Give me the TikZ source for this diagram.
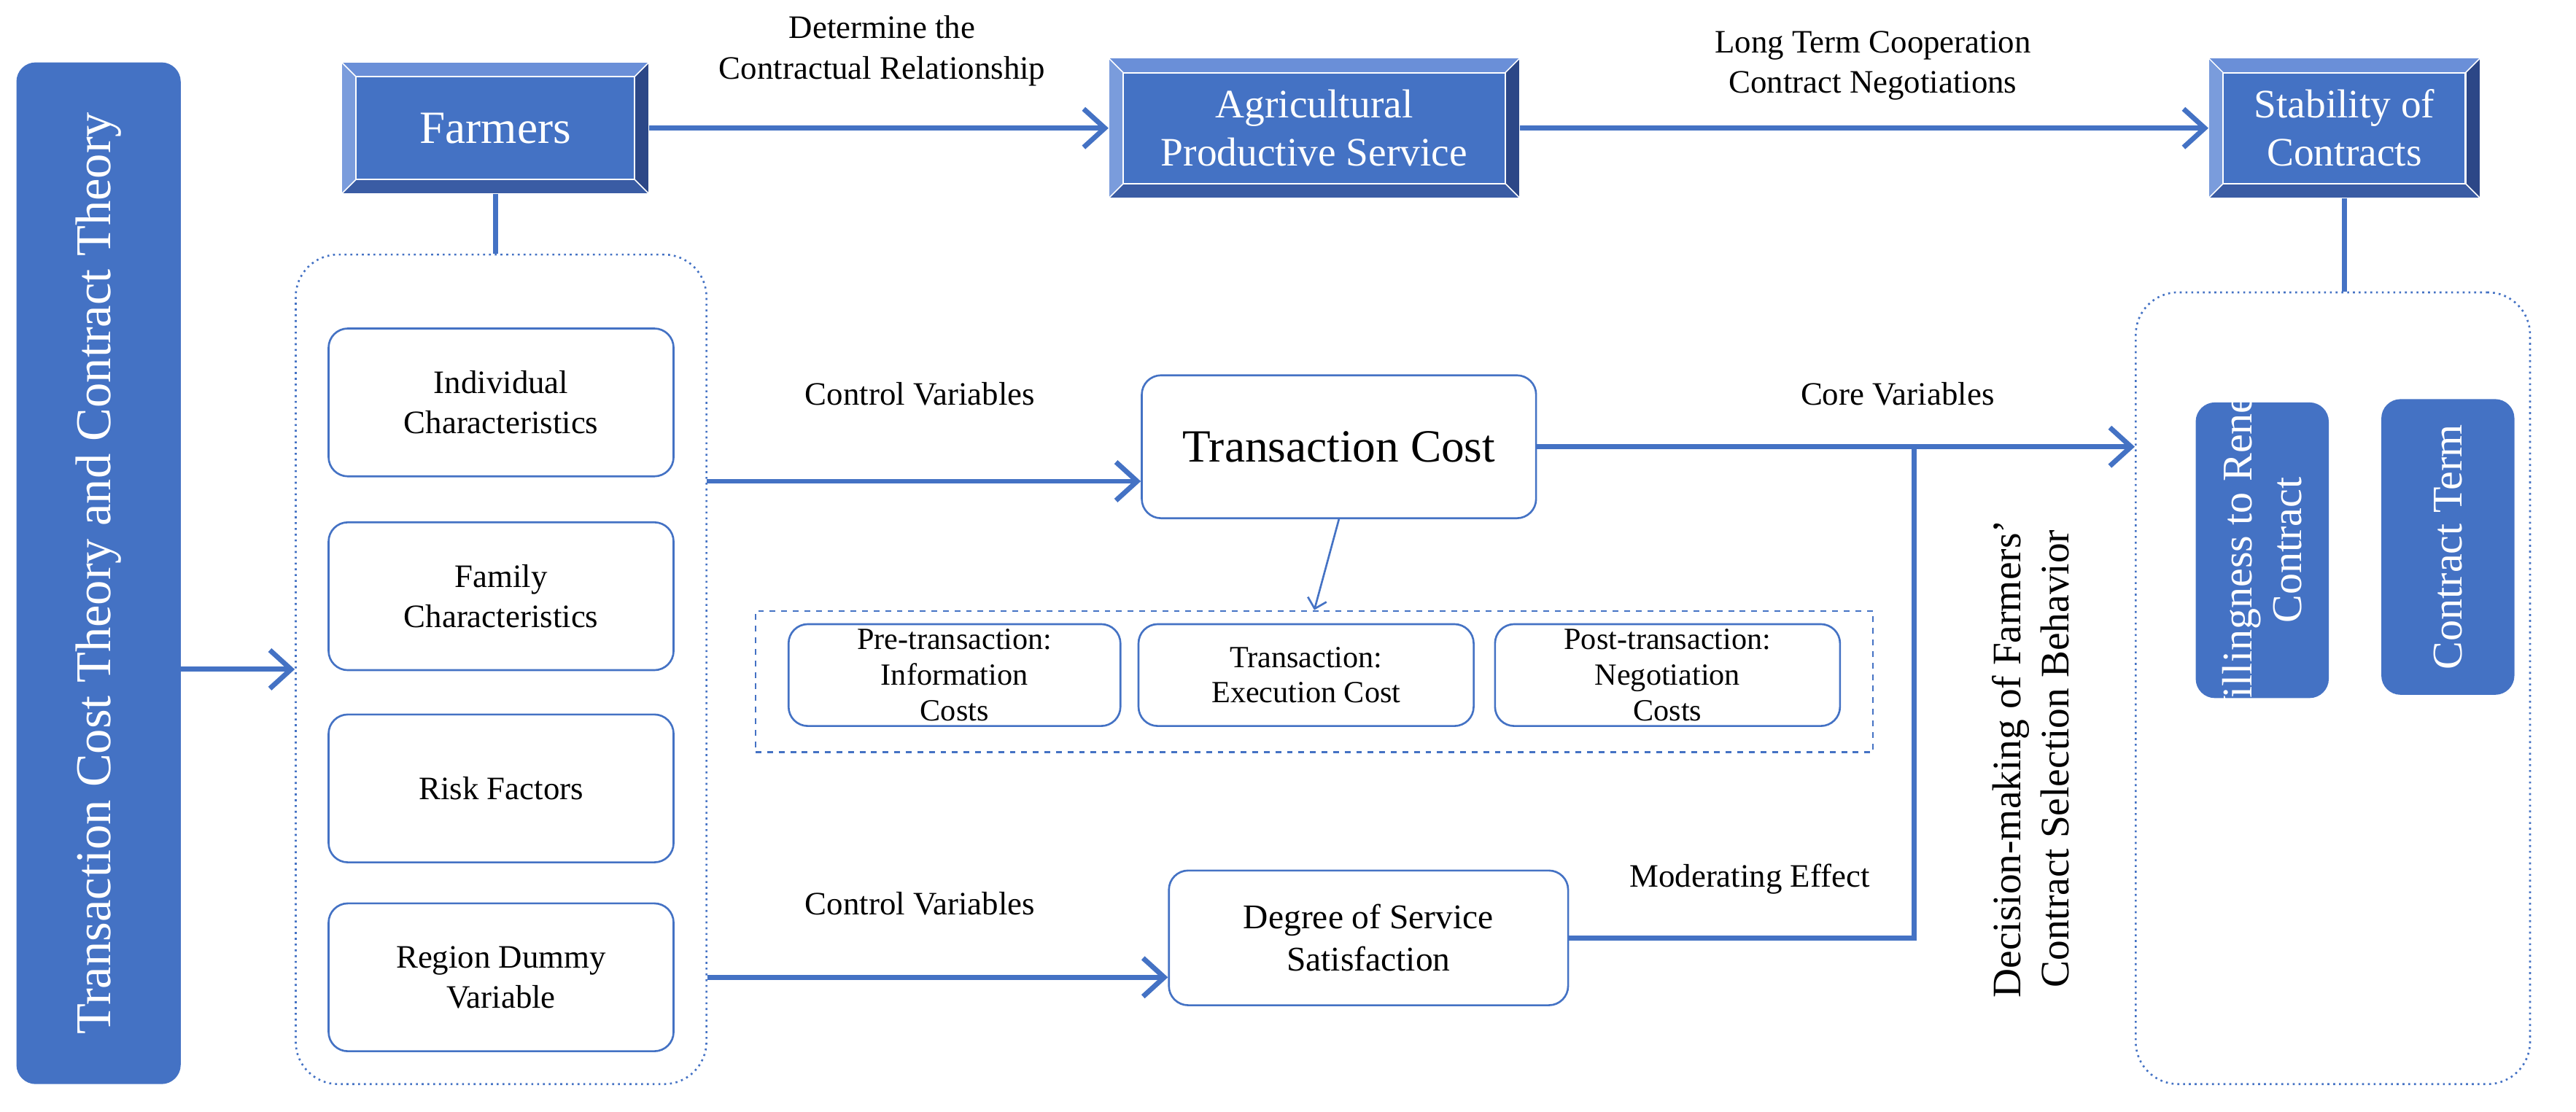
\documentclass[tikz,border=0pt]{standalone}
\usepackage{fontspec}
\setmainfont{Liberation Serif}
\usetikzlibrary{arrows.meta,backgrounds,calc}
\definecolor{bl}{HTML}{4472C4}
\definecolor{bltop}{HTML}{6A8FD8}
\definecolor{blleft}{HTML}{7A9CDC}
\definecolor{blbot}{HTML}{3A5CA4}
\definecolor{blright}{HTML}{2C4787}
\tikzset{
 arr/.style={line width=2.6pt,draw=bl,-{Straight Barb[length=11pt,width=20pt,line width=2.6pt]}},
 ln/.style={line width=2.6pt,draw=bl},
 bevel/.style={text=white,align=center,font=\fontsize{24}{27}\selectfont,inner sep=0pt},
 solid box/.style={fill=bl,text=white,rounded corners=10pt,align=center,inner sep=0pt},
 wbox/.style={draw=bl,line width=1pt,rounded corners=10pt,fill=white,align=center,font=\fontsize{17}{21}\selectfont,inner sep=0pt},
 dotbox/.style={draw=bl,line width=1pt,dotted,rounded corners=22pt},
 lbl/.style={font=\fontsize{17}{21}\selectfont,align=center}
}
\newcommand{\bevelize}[1]{%
 \begin{scope}[on background layer]
 \def\d{0.27cm}
 \fill[bl] (#1.north west) rectangle (#1.south east);
 \fill[bltop] (#1.north west) -- (#1.north east) -- ($(#1.north east)+(-\d,-\d)$) -- ($(#1.north west)+(\d,-\d)$) -- cycle;
 \fill[blleft] (#1.north west) -- (#1.south west) -- ($(#1.south west)+(\d,\d)$) -- ($(#1.north west)+(\d,-\d)$) -- cycle;
 \fill[blbot] (#1.south west) -- (#1.south east) -- ($(#1.south east)+(-\d,\d)$) -- ($(#1.south west)+(\d,\d)$) -- cycle;
 \fill[blright] (#1.north east) -- (#1.south east) -- ($(#1.south east)+(-\d,\d)$) -- ($(#1.north east)+(-\d,-\d)$) -- cycle;
 \draw[white,line width=0.8pt] ($(#1.north west)+(\d,-\d)$) rectangle ($(#1.south east)+(-\d,\d)$);
 \draw[white,line width=0.6pt] (#1.north west)--($(#1.north west)+(\d,-\d)$) (#1.north east)--($(#1.north east)+(-\d,-\d)$) (#1.south west)--($(#1.south west)+(\d,\d)$) (#1.south east)--($(#1.south east)+(-\d,\d)$);
 \draw[white,line width=0.8pt] (#1.north west) rectangle (#1.south east);
 \end{scope}}
\begin{document}
\begin{tikzpicture}[x=0.03cm,y=-0.03cm]
\useasboundingbox (0,0) rectangle (1568,677);
% left theory box
\node[solid box,rotate=90,minimum width=18.66cm,minimum height=3cm,font=\fontsize{26}{30}\selectfont] (left) at (60,349) {Transaction Cost Theory and Contract Theory};
% bevel boxes
\node[bevel,minimum width=5.61cm,minimum height=2.4cm] (farm) at (301.5,78) {Farmers};
\node[bevel,minimum width=7.5cm,minimum height=2.55cm,font=\fontsize{21}{25}\selectfont] (agri) at (800,78) {Agricultural\\Productive Service};
\node[bevel,minimum width=4.95cm,minimum height=2.55cm,font=\fontsize{21}{25}\selectfont] (stab) at (1427,78) {Stability of\\Contracts};
\bevelize{farm}\bevelize{agri}\bevelize{stab}
% dotted containers
\node[dotbox,minimum width=7.5cm,minimum height=15.15cm] (dl) at (305,407.5) {};
\node[dotbox,minimum width=7.2cm,minimum height=14.46cm] (rd) at (1420,419) {};
% characteristics
\node[wbox,minimum width=6.3cm,minimum height=2.7cm] (ind) at (305,245) {Individual\\Characteristics};
\node[wbox,minimum width=6.3cm,minimum height=2.7cm] (fam) at (305,363) {Family\\Characteristics};
\node[wbox,minimum width=6.3cm,minimum height=2.7cm] (risk) at (305,480) {Risk Factors};
\node[wbox,minimum width=6.3cm,minimum height=2.7cm] (reg) at (305,595) {Region Dummy\\Variable};
% transaction cost
\node[wbox,minimum width=7.2cm,minimum height=2.61cm,font=\fontsize{24}{27}\selectfont] (tc) at (815,272) {Transaction Cost};
\node[draw=bl,line width=1pt,dashed,minimum width=20.4cm,minimum height=2.58cm] (dash) at (800,415) {};
\node[wbox,minimum width=6.06cm,minimum height=1.86cm,font=\fontsize{16}{18.5}\selectfont] (pre) at (581,411) {Pre-transaction:\\Information\\Costs};
\node[wbox,minimum width=6.12cm,minimum height=1.86cm,font=\fontsize{16}{18.5}\selectfont] (tra) at (795,411) {Transaction:\\Execution Cost};
\node[wbox,minimum width=6.3cm,minimum height=1.86cm,font=\fontsize{16}{18.5}\selectfont] (post) at (1015,411) {Post-transaction:\\Negotiation\\Costs};
\node[wbox,minimum width=7.29cm,minimum height=2.46cm,font=\fontsize{18}{22}\selectfont] (deg) at (833,571) {Degree of Service\\Satisfaction};
% right solid boxes
\node[solid box,minimum width=2.43cm,minimum height=5.4cm] (will) at (1377,335) {};
\node[text=white,align=center,rotate=90,inner sep=0pt,font=\fontsize{22}{26}\selectfont] (willtxt) at (will.center) {Willingness to Renew\\Contract};
\node[solid box,rotate=90,minimum width=5.4cm,minimum height=2.43cm,font=\fontsize{22}{26}\selectfont] (term) at (1490,333) {Contract Term};
% connectors
\draw[arr] (left.south |- dl.west) -- (dl.west);
\draw[arr] (farm.east) -- (agri.west);
\draw[arr] (agri.east) -- (stab.west);
\draw[ln] (farm.south) -- (farm.south |- dl.north);
\draw[ln] (stab.south) -- (stab.south |- rd.north);
\coordinate (c1) at (430,293);
\draw[arr] (c1) -- (c1 -| tc.west);
\draw[arr] (tc.east) -- (tc.east -| rd.west);
\draw[arr] (reg.east -| dl.east) -- (reg.east -| deg.west);
\coordinate (j) at (1165,272);
\draw[ln] (deg.east) -| (j);
\draw[draw=bl,line width=1pt,-{Straight Barb[length=5pt,width=10pt]}] (tc.south) -- (dash.north);
% labels
\node[lbl] (l1) at (537,31) {Determine the\\Contractual Relationship};
\node[lbl] (l2) at (1140,40) {Long Term Cooperation\\Contract Negotiations};
\node[lbl] (l3) at (560,240) {Control Variables};
\node[lbl] (l4) at (1155,240) {Core Variables};
\node[lbl] (l5) at (560,550) {Control Variables};
\node[lbl] (l6) at (1065,535) {Moderating Effect};
\node[lbl,rotate=90,font=\fontsize{21}{25}\selectfont] (l7) at (1236,462) {Decision-making of Farmers'\\Contract Selection Behavior};
\end{tikzpicture}
\end{document}
